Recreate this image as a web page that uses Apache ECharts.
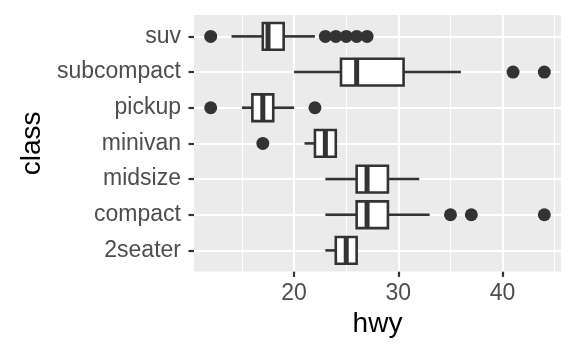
<!DOCTYPE html>
<html><head><meta charset="utf-8">
<script src="https://cdn.jsdelivr.net/npm/echarts@6/dist/echarts.min.js"></script>
<style>html,body{margin:0;padding:0;background:#fff}#c{width:576px;height:355px}</style>
</head><body><div id="c"></div>
<script>
// ---- data (ggplot2 mpg: hwy by class) ----
const classes     = ['2seater','compact','midsize','minivan','pickup','subcompact','suv'];
const whiskerLow  = [23, 23, 23, 21, 15, 20, 14];
const q1          = [24, 26, 26, 22, 16, 24.5, 17];
const median      = [25, 27, 27, 23, 17, 26, 17.5];
const q3          = [26, 29, 29, 24, 18, 30.5, 19];
const whiskerHigh = [26, 33, 32, 24, 20, 36, 22];
const outlierClass = ['compact','compact','compact','minivan','pickup','pickup','subcompact','subcompact','suv','suv','suv','suv','suv','suv'];
const outlierValue = [35, 37, 44, 17, 12, 22, 41, 44, 12, 23, 24, 25, 26, 27];
const majorBreaks = [20, 30, 40];
const minorBreaks = [15, 25, 35, 45];
const xMin = 10.4, xMax = 45.6;

const FONT = '"Liberation Sans", Arial, sans-serif';
const DARK = '#333333';

const boxData = classes.map((c, i) => [i, whiskerLow[i], q1[i], median[i], q3[i], whiskerHigh[i]]);
const outData = outlierValue.map((v, i) => [v, outlierClass[i]]);

function renderBox(params, api) {
  const ci = api.value(0);
  const pLo = api.coord([api.value(1), ci]);
  const pQ1 = api.coord([api.value(2), ci]);
  const pMed = api.coord([api.value(3), ci]);
  const pQ3 = api.coord([api.value(4), ci]);
  const pHi = api.coord([api.value(5), ci]);
  const band = api.size([0, 1])[1];
  const h = band * 0.75;
  const y = pMed[1];
  const ls = { stroke: DARK, lineWidth: 2.6 };
  return {
    type: 'group',
    children: [
      { type: 'line', shape: { x1: pLo[0], y1: y, x2: pQ1[0], y2: y }, style: ls },
      { type: 'line', shape: { x1: pQ3[0], y1: y, x2: pHi[0], y2: y }, style: ls },
      { type: 'rect', shape: { x: pQ1[0], y: y - h / 2, width: pQ3[0] - pQ1[0], height: h },
        style: { fill: '#fff', stroke: DARK, lineWidth: 2.6 } },
      { type: 'line', shape: { x1: pMed[0], y1: y - h / 2, x2: pMed[0], y2: y + h / 2 },
        style: { stroke: DARK, lineWidth: 5 } }
    ]
  };
}

const chart = echarts.init(document.getElementById('c'), null, { renderer: 'canvas' });
chart.setOption({
  animation: false,
  backgroundColor: '#fff',
  grid: [
    { left: 194, right: 15, top: 15, bottom: 83.6, show: true, backgroundColor: '#EBEBEB', borderWidth: 0 },
    { left: 194, right: 15, top: 36.4, bottom: 104.6, show: false }
  ],
  xAxis: [
    { gridIndex: 0, type: 'value', min: xMin, max: xMax,
      splitLine: { show: false }, axisLine: { show: false },
      axisTick: { show: true, customValues: majorBreaks, length: 5.5, lineStyle: { color: DARK, width: 2.2 } },
      axisLabel: { customValues: majorBreaks, color: '#4D4D4D', fontSize: 23, fontFamily: FONT, margin: 11 },
      name: 'hwy', nameLocation: 'middle', nameGap: 37,
      nameTextStyle: { fontSize: 28, color: '#000', fontFamily: FONT } },
    { gridIndex: 1, type: 'value', min: xMin, max: xMax, show: false }
  ],
  yAxis: [
    { gridIndex: 0, type: 'value', min: 0, max: 1, show: false },
    { gridIndex: 1, type: 'category', data: classes, boundaryGap: false,
      axisLine: { show: false }, splitLine: { show: false },
      axisTick: { show: true, length: 5.5, lineStyle: { color: DARK, width: 2.2 } },
      axisLabel: { color: '#4D4D4D', fontSize: 23, fontFamily: FONT, margin: 13 },
      name: 'class', nameLocation: 'middle', nameRotate: 90, nameGap: 146,
      nameTextStyle: { fontSize: 28, color: '#000', fontFamily: FONT } }
  ],
  series: [
    { type: 'line', xAxisIndex: 0, yAxisIndex: 0, data: [], z: 1,
      markLine: { silent: true, symbol: ['none', 'none'], label: { show: false }, animation: false,
        data: minorBreaks.map(v => ({ xAxis: v, lineStyle: { color: '#fff', width: 1.07, type: 'solid' } }))
          .concat(majorBreaks.map(v => ({ xAxis: v, lineStyle: { color: '#fff', width: 2.13, type: 'solid' } }))) } },
    { type: 'line', xAxisIndex: 1, yAxisIndex: 1, data: [], z: 1,
      markLine: { silent: true, symbol: ['none', 'none'], label: { show: false }, animation: false,
        data: classes.map(c => ({ yAxis: c, lineStyle: { color: '#fff', width: 2.13, type: 'solid' } })) } },
    { type: 'custom', xAxisIndex: 1, yAxisIndex: 1, z: 10, renderItem: renderBox,
      encode: { y: 0, x: [1, 2, 3, 4, 5] }, data: boxData },
    { type: 'scatter', xAxisIndex: 1, yAxisIndex: 1, z: 11, symbol: 'circle', symbolSize: 13,
      itemStyle: { color: DARK, opacity: 1 }, data: outData }
  ]
});
</script></body></html>
